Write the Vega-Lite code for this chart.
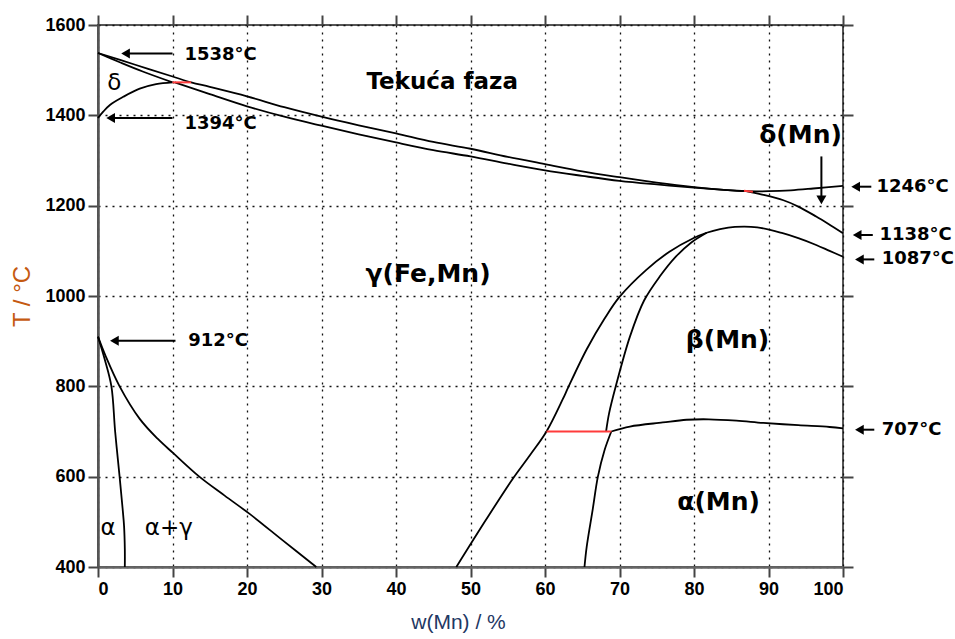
{
  "$schema": "https://vega.github.io/schema/vega-lite/v6.json",
  "width": 745,
  "height": 542,
  "autosize": {"type": "none"},
  "padding": {"left": 98, "top": 25, "right": 112, "bottom": 72},
  "background": "white",
  "config": {"view": {"stroke": "#555", "strokeWidth": 2}, "font": "DejaVu Sans"},
  "datasets": {
    "curves": [
      {"c": "L", "o": 0, "x": 0, "T": 1538}, {"c": "L", "o": 1, "x": 5, "T": 1512}, {"c": "L", "o": 2, "x": 10, "T": 1486}, {"c": "L", "o": 3, "x": 12.5, "T": 1473}, {"c": "L", "o": 4, "x": 15, "T": 1463}, {"c": "L", "o": 5, "x": 20, "T": 1442}, {"c": "L", "o": 6, "x": 25, "T": 1418}, {"c": "L", "o": 7, "x": 30, "T": 1397}, {"c": "L", "o": 8, "x": 35, "T": 1378}, {"c": "L", "o": 9, "x": 40, "T": 1360}, {"c": "L", "o": 10, "x": 45, "T": 1341}, {"c": "L", "o": 11, "x": 50, "T": 1326}, {"c": "L", "o": 12, "x": 55, "T": 1308}, {"c": "L", "o": 13, "x": 60, "T": 1292}, {"c": "L", "o": 14, "x": 65, "T": 1276}, {"c": "L", "o": 15, "x": 70, "T": 1263}, {"c": "L", "o": 16, "x": 75, "T": 1251}, {"c": "L", "o": 17, "x": 80, "T": 1241}, {"c": "L", "o": 18, "x": 84, "T": 1235}, {"c": "L", "o": 19, "x": 87, "T": 1232}, {"c": "L", "o": 20, "x": 90, "T": 1232}, {"c": "L", "o": 21, "x": 93, "T": 1234}, {"c": "L", "o": 22, "x": 96, "T": 1238}, {"c": "L", "o": 23, "x": 100, "T": 1244},
      {"c": "S1", "o": 0, "x": 0, "T": 1538}, {"c": "S1", "o": 1, "x": 3, "T": 1517}, {"c": "S1", "o": 2, "x": 6, "T": 1497}, {"c": "S1", "o": 3, "x": 10, "T": 1473},
      {"c": "S2", "o": 0, "x": 10.3, "T": 1473}, {"c": "S2", "o": 1, "x": 15, "T": 1447}, {"c": "S2", "o": 2, "x": 20, "T": 1420}, {"c": "S2", "o": 3, "x": 25, "T": 1397}, {"c": "S2", "o": 4, "x": 30, "T": 1377}, {"c": "S2", "o": 5, "x": 35, "T": 1358}, {"c": "S2", "o": 6, "x": 40, "T": 1340}, {"c": "S2", "o": 7, "x": 45, "T": 1323}, {"c": "S2", "o": 8, "x": 50, "T": 1309}, {"c": "S2", "o": 9, "x": 55, "T": 1293}, {"c": "S2", "o": 10, "x": 60, "T": 1278}, {"c": "S2", "o": 11, "x": 65, "T": 1266}, {"c": "S2", "o": 12, "x": 70, "T": 1255}, {"c": "S2", "o": 13, "x": 75, "T": 1247}, {"c": "S2", "o": 14, "x": 80, "T": 1240}, {"c": "S2", "o": 15, "x": 84, "T": 1235}, {"c": "S2", "o": 16, "x": 87, "T": 1232},
      {"c": "DG", "o": 0, "x": 0, "T": 1394}, {"c": "DG", "o": 1, "x": 0.7, "T": 1408}, {"c": "DG", "o": 2, "x": 1.6, "T": 1423}, {"c": "DG", "o": 3, "x": 3.4, "T": 1441}, {"c": "DG", "o": 4, "x": 5.6, "T": 1459}, {"c": "DG", "o": 5, "x": 7.8, "T": 1469}, {"c": "DG", "o": 6, "x": 10, "T": 1473},
      {"c": "DM", "o": 0, "x": 87, "T": 1232}, {"c": "DM", "o": 1, "x": 89, "T": 1225}, {"c": "DM", "o": 2, "x": 92, "T": 1212}, {"c": "DM", "o": 3, "x": 94, "T": 1198}, {"c": "DM", "o": 4, "x": 96.4, "T": 1176}, {"c": "DM", "o": 5, "x": 98, "T": 1160}, {"c": "DM", "o": 6, "x": 100, "T": 1139},
      {"c": "GB", "o": 0, "x": 48.1, "T": 400}, {"c": "GB", "o": 1, "x": 52.1, "T": 505}, {"c": "GB", "o": 2, "x": 55.7, "T": 596}, {"c": "GB", "o": 3, "x": 58, "T": 648}, {"c": "GB", "o": 4, "x": 60.2, "T": 700}, {"c": "GB", "o": 5, "x": 62.4, "T": 772}, {"c": "GB", "o": 6, "x": 63.1, "T": 797}, {"c": "GB", "o": 7, "x": 65.6, "T": 882}, {"c": "GB", "o": 8, "x": 68, "T": 950}, {"c": "GB", "o": 9, "x": 70, "T": 998}, {"c": "GB", "o": 10, "x": 73.6, "T": 1058}, {"c": "GB", "o": 11, "x": 76.7, "T": 1098}, {"c": "GB", "o": 12, "x": 79.9, "T": 1128}, {"c": "GB", "o": 13, "x": 81.7, "T": 1140}, {"c": "GB", "o": 14, "x": 83.5, "T": 1148}, {"c": "GB", "o": 15, "x": 85.5, "T": 1153}, {"c": "GB", "o": 16, "x": 88.5, "T": 1152}, {"c": "GB", "o": 17, "x": 91.9, "T": 1139}, {"c": "GB", "o": 18, "x": 94, "T": 1128}, {"c": "GB", "o": 19, "x": 96.4, "T": 1113}, {"c": "GB", "o": 20, "x": 98.2, "T": 1100}, {"c": "GB", "o": 21, "x": 100, "T": 1087},
      {"c": "AM", "o": 0, "x": 65.3, "T": 400}, {"c": "AM", "o": 1, "x": 65.6, "T": 445}, {"c": "AM", "o": 2, "x": 66.4, "T": 527}, {"c": "AM", "o": 3, "x": 67.1, "T": 600}, {"c": "AM", "o": 4, "x": 68, "T": 659}, {"c": "AM", "o": 5, "x": 68.9, "T": 700},
      {"c": "BM", "o": 0, "x": 68.2, "T": 700}, {"c": "BM", "o": 1, "x": 68.6, "T": 740}, {"c": "BM", "o": 2, "x": 69.5, "T": 800}, {"c": "BM", "o": 3, "x": 71.4, "T": 910}, {"c": "BM", "o": 4, "x": 73.3, "T": 990}, {"c": "BM", "o": 5, "x": 75.4, "T": 1043}, {"c": "BM", "o": 6, "x": 77.5, "T": 1086}, {"c": "BM", "o": 7, "x": 79.6, "T": 1118}, {"c": "BM", "o": 8, "x": 81.7, "T": 1140},
      {"c": "AB", "o": 0, "x": 68.9, "T": 700}, {"c": "AB", "o": 1, "x": 71.4, "T": 711}, {"c": "AB", "o": 2, "x": 75.8, "T": 720}, {"c": "AB", "o": 3, "x": 79, "T": 726}, {"c": "AB", "o": 4, "x": 82, "T": 727}, {"c": "AB", "o": 5, "x": 85.7, "T": 724}, {"c": "AB", "o": 6, "x": 89.3, "T": 719}, {"c": "AB", "o": 7, "x": 94, "T": 714}, {"c": "AB", "o": 8, "x": 98.2, "T": 710}, {"c": "AB", "o": 9, "x": 100, "T": 707},
      {"c": "FA", "o": 0, "x": 0, "T": 910}, {"c": "FA", "o": 1, "x": 0.9, "T": 860}, {"c": "FA", "o": 2, "x": 1.8, "T": 800}, {"c": "FA", "o": 3, "x": 2.3, "T": 700}, {"c": "FA", "o": 4, "x": 2.9, "T": 600}, {"c": "FA", "o": 5, "x": 3.3, "T": 530}, {"c": "FA", "o": 6, "x": 3.5, "T": 490}, {"c": "FA", "o": 7, "x": 3.6, "T": 440}, {"c": "FA", "o": 8, "x": 3.6, "T": 400},
      {"c": "FG", "o": 0, "x": 0, "T": 910}, {"c": "FG", "o": 1, "x": 1, "T": 868}, {"c": "FG", "o": 2, "x": 2.9, "T": 800}, {"c": "FG", "o": 3, "x": 5.6, "T": 728}, {"c": "FG", "o": 4, "x": 8, "T": 684}, {"c": "FG", "o": 5, "x": 10.1, "T": 652}, {"c": "FG", "o": 6, "x": 13.6, "T": 600}, {"c": "FG", "o": 7, "x": 17, "T": 558}, {"c": "FG", "o": 8, "x": 20.4, "T": 517}, {"c": "FG", "o": 9, "x": 24.8, "T": 459}, {"c": "FG", "o": 10, "x": 29.3, "T": 400}
    ],
    "red": [
      {"c": "R1", "o": 0, "x": 10, "T": 1473}, {"c": "R1", "o": 1, "x": 12.5, "T": 1473},
      {"c": "R2", "o": 0, "x": 86.7, "T": 1233}, {"c": "R2", "o": 1, "x": 87.9, "T": 1231},
      {"c": "R3", "o": 0, "x": 60.2, "T": 700}, {"c": "R3", "o": 1, "x": 68.9, "T": 700}
    ],
    "harrows": [
      {"x": 10, "x2": 3.8, "T": 1537}, {"x": 10, "x2": 1.8, "T": 1394}, {"x": 10.4, "x2": 2.3, "T": 901},
      {"x": 103.8, "x2": 101.8, "T": 1242}, {"x": 104, "x2": 102, "T": 1135}, {"x": 104.2, "x2": 102.3, "T": 1081}, {"x": 104.2, "x2": 102.3, "T": 704}
    ],
    "varrows": [{"x": 97.1, "T": 1309, "T2": 1215}],
    "heads": [
      {"x": 3.7, "T": 1537, "d": "left"}, {"x": 1.7, "T": 1394, "d": "left"}, {"x": 2.2, "T": 901, "d": "left"},
      {"x": 101.7, "T": 1242, "d": "left"}, {"x": 101.9, "T": 1135, "d": "left"}, {"x": 102.2, "T": 1081, "d": "left"}, {"x": 102.2, "T": 704, "d": "left"},
      {"x": 97.1, "T": 1213, "d": "down"}
    ],
    "temps": [
      {"x": 11.6, "T": 1534, "t": "1538°C"}, {"x": 11.6, "T": 1381, "t": "1394°C"}, {"x": 12.1, "T": 901, "t": "912°C"},
      {"x": 104.5, "T": 1242, "t": "1246°C"}, {"x": 104.9, "T": 1135, "t": "1138°C"}, {"x": 105.2, "T": 1081, "t": "1087°C"}, {"x": 105.2, "T": 704, "t": "707°C"}
    ],
    "regions": [
      {"x": 44.3, "T": 1049, "t": "γ(Fe,Mn)"}, {"x": 84.5, "T": 903, "t": "β(Mn)"}, {"x": 83.3, "T": 545, "t": "α(Mn)"}, {"x": 94.3, "T": 1357, "t": "δ(Mn)"}
    ],
    "liquid": [{"x": 46.2, "T": 1474, "t": "Tekuća faza"}],
    "small": [
      {"x": 2.2, "T": 1471, "t": "δ"}, {"x": 1.35, "T": 486, "t": "α"}, {"x": 9.5, "T": 486, "t": "α+γ"}
    ]
  },
  "layer": [
    {
      "data": {"name": "curves"},
      "mark": {"type": "line", "color": "black", "strokeWidth": 1.8, "strokeJoin": "round", "interpolate": "catmull-rom"},
      "encoding": {
        "x": {"field": "x", "type": "quantitative", "scale": {"domain": [0, 100], "nice": false, "zero": false},
          "axis": {"orient": "bottom", "values": [0, 10, 20, 30, 40, 50, 60, 70, 80, 90, 100], "grid": true, "gridDash": [2, 5], "gridColor": "#111", "gridWidth": 1.3,
            "domainColor": "#666", "domainWidth": 2.5, "tickColor": "#444", "tickSize": 10, "tickWidth": 2,
            "labelFont": "Liberation Sans", "labelFontWeight": "bold", "labelFontSize": 18, "labelColor": "black", "labelPadding": 3,
            "title": "w(Mn) / %", "titleFont": "Liberation Sans", "titleFontSize": 21, "titleFontWeight": "normal", "titleColor": "#1f3864",
            "titleX": 360, "titleY": 55, "titleBaseline": "middle"}},
        "y": {"field": "T", "type": "quantitative", "scale": {"domain": [400, 1600], "nice": false, "zero": false},
          "axis": {"orient": "left", "values": [400, 600, 800, 1000, 1200, 1400, 1600], "format": "d", "grid": true, "gridDash": [2, 5], "gridColor": "#111", "gridWidth": 1.3,
            "domainColor": "#555", "domainWidth": 2.5, "tickColor": "#444", "tickSize": 10, "tickWidth": 2,
            "labelFont": "Liberation Sans", "labelFontWeight": "bold", "labelFontSize": 18, "labelColor": "black", "labelPadding": 3,
            "title": "T / °C", "titleFont": "Liberation Sans", "titleFontSize": 24, "titleFontWeight": "normal", "titleColor": "#c55a11",
            "titleX": -76, "titleY": 271, "titleBaseline": "middle"}},
        "detail": {"field": "c"},
        "order": {"field": "o", "type": "quantitative"}
      }
    },
    {
      "data": {"name": "red"},
      "mark": {"type": "line", "color": "#ff3b3b", "strokeWidth": 2},
      "encoding": {
        "x": {"field": "x", "type": "quantitative", "scale": {"domain": [0, 100], "nice": false, "zero": false},
          "axis": {"orient": "top", "values": [0, 10, 20, 30, 40, 50, 60, 70, 80, 90, 100], "labels": false, "grid": false, "domain": false, "tickColor": "#444", "tickSize": 10, "tickWidth": 2, "title": null}},
        "y": {"field": "T", "type": "quantitative", "scale": {"domain": [400, 1600], "nice": false, "zero": false},
          "axis": {"orient": "right", "values": [400, 600, 800, 1000, 1200, 1400, 1600], "labels": false, "grid": false, "domain": false, "tickColor": "#444", "tickSize": 10, "tickWidth": 2, "title": null}},
        "detail": {"field": "c"},
        "order": {"field": "o", "type": "quantitative"}
      }
    },
    {
      "data": {"name": "harrows"},
      "mark": {"type": "rule", "color": "black", "strokeWidth": 2},
      "encoding": {
        "x": {"field": "x", "type": "quantitative", "scale": {"domain": [0, 100], "nice": false, "zero": false}, "axis": null},
        "x2": {"field": "x2"},
        "y": {"field": "T", "type": "quantitative", "scale": {"domain": [400, 1600], "nice": false, "zero": false}, "axis": null}
      }
    },
    {
      "data": {"name": "varrows"},
      "mark": {"type": "rule", "color": "black", "strokeWidth": 2},
      "encoding": {
        "x": {"field": "x", "type": "quantitative", "scale": {"domain": [0, 100], "nice": false, "zero": false}, "axis": null},
        "y": {"field": "T", "type": "quantitative", "scale": {"domain": [400, 1600], "nice": false, "zero": false}, "axis": null},
        "y2": {"field": "T2"}
      }
    },
    {
      "data": {"name": "heads"},
      "mark": {"type": "point", "filled": true, "color": "black", "opacity": 1, "size": 100},
      "encoding": {
        "x": {"field": "x", "type": "quantitative", "scale": {"domain": [0, 100], "nice": false, "zero": false}, "axis": null},
        "y": {"field": "T", "type": "quantitative", "scale": {"domain": [400, 1600], "nice": false, "zero": false}, "axis": null},
        "shape": {"field": "d", "type": "nominal", "scale": {"domain": ["left", "down"], "range": ["triangle-left", "triangle-down"]}, "legend": null}
      }
    },
    {
      "data": {"name": "temps"},
      "mark": {"type": "text", "font": "DejaVu Sans", "fontWeight": "bold", "fontSize": 18, "align": "left", "baseline": "middle", "color": "black"},
      "encoding": {
        "x": {"field": "x", "type": "quantitative", "scale": {"domain": [0, 100], "nice": false, "zero": false}, "axis": null},
        "y": {"field": "T", "type": "quantitative", "scale": {"domain": [400, 1600], "nice": false, "zero": false}, "axis": null},
        "text": {"field": "t"}
      }
    },
    {
      "data": {"name": "regions"},
      "mark": {"type": "text", "font": "DejaVu Sans", "fontWeight": "bold", "fontSize": 25, "align": "center", "baseline": "middle", "color": "black"},
      "encoding": {
        "x": {"field": "x", "type": "quantitative", "scale": {"domain": [0, 100], "nice": false, "zero": false}, "axis": null},
        "y": {"field": "T", "type": "quantitative", "scale": {"domain": [400, 1600], "nice": false, "zero": false}, "axis": null},
        "text": {"field": "t"}
      }
    },
    {
      "data": {"name": "liquid"},
      "mark": {"type": "text", "font": "DejaVu Sans", "fontWeight": "bold", "fontSize": 23, "align": "center", "baseline": "middle", "color": "black"},
      "encoding": {
        "x": {"field": "x", "type": "quantitative", "scale": {"domain": [0, 100], "nice": false, "zero": false}, "axis": null},
        "y": {"field": "T", "type": "quantitative", "scale": {"domain": [400, 1600], "nice": false, "zero": false}, "axis": null},
        "text": {"field": "t"}
      }
    },
    {
      "data": {"name": "small"},
      "mark": {"type": "text", "font": "DejaVu Sans", "fontWeight": "normal", "fontSize": 23, "align": "center", "baseline": "middle", "color": "black"},
      "encoding": {
        "x": {"field": "x", "type": "quantitative", "scale": {"domain": [0, 100], "nice": false, "zero": false}, "axis": null},
        "y": {"field": "T", "type": "quantitative", "scale": {"domain": [400, 1600], "nice": false, "zero": false}, "axis": null},
        "text": {"field": "t"}
      }
    }
  ],
  "resolve": {"axis": {"x": "independent", "y": "independent"}}
}
